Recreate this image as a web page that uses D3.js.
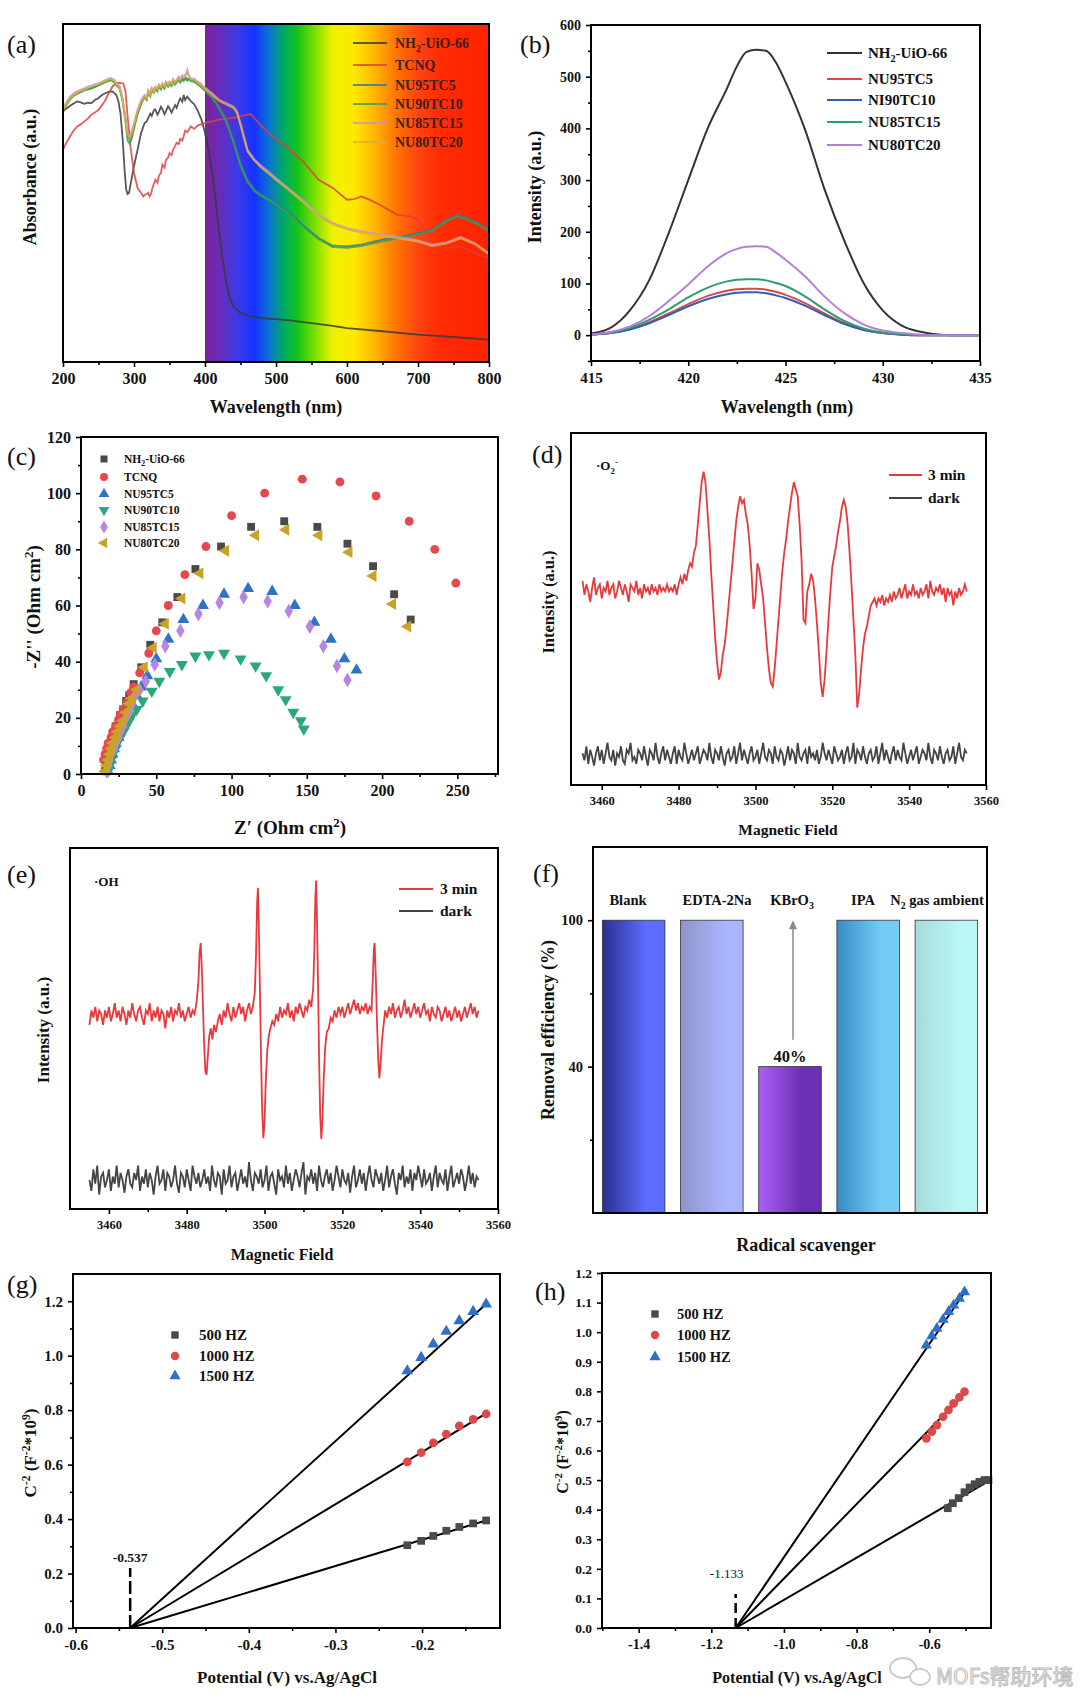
<!DOCTYPE html>
<html><head><meta charset="utf-8">
<script src="https://cdn.jsdelivr.net/npm/d3@7"></script>
<style>body{margin:0;background:#fff}svg{display:block}</style>
</head><body><svg id="fig" width="1080" height="1702"></svg>
<script>
// ================= DATA =================
// (a) UV-vis absorbance (a.u., 0..1 of frame)
const aNames = ["NH2-UiO-66","TCNQ","NU95TC5","NU90TC10","NU85TC15","NU80TC20"];
const aNH2 = [[200,.742],[205,.75],[210,.758],[215,.765],[220,.771],[225,.768],[230,.764],[235,.767],[240,.766],[245,.775],[250,.781],[255,.79],[260,.796],[265,.8],[270,.8],[275,.79],[278,.772],[281,.735],[284,.66],[287,.56],[289,.51],[291,.497],[293,.5],[296,.535],[300,.58],[305,.628],[310,.678],[315,.707],[318,.712],[320,.722],[323,.735],[325,.728],[328,.745],[330,.747],[333,.732],[335,.74],[338,.755],[340,.748],[343,.733],[345,.742],[348,.757],[350,.75],[353,.738],[355,.748],[358,.76],[360,.752],[363,.77],[365,.78],[368,.77],[370,.79],[372,.775],[375,.785],[378,.777],[380,.772],[385,.762],[390,.742],[395,.717],[400,.678],[405,.628],[410,.559],[415,.48],[420,.382],[425,.303],[430,.234],[435,.189],[440,.165],[450,.145],[460,.137],[480,.13],[500,.127],[520,.123],[550,.115],[580,.107],[600,.1],[650,.091],[700,.081],[750,.074],[800,.066]];
const aTCNQ = [[200,.628],[205,.65],[210,.668],[215,.685],[220,.697],[225,.703],[230,.712],[235,.72],[240,.732],[245,.738],[250,.746],[255,.76],[260,.776],[263,.79],[266,.801],[270,.816],[275,.825],[280,.826],[285,.824],[288,.801],[291,.727],[295,.638],[300,.559],[305,.515],[310,.5],[313,.49],[315,.495],[318,.497],[320,.5],[322,.49],[324,.498],[326,.515],[330,.539],[333,.53],[335,.55],[338,.56],[340,.584],[343,.575],[345,.598],[348,.605],[350,.618],[353,.612],[355,.628],[358,.64],[360,.648],[363,.645],[365,.66],[368,.655],[370,.668],[372,.685],[375,.68],[378,.69],[380,.697],[385,.69],[390,.7],[400,.707],[410,.712],[420,.717],[430,.72],[440,.722],[450,.727],[460,.732],[465,.733],[470,.72],[480,.697],[490,.678],[500,.658],[520,.628],[540,.589],[560,.539],[580,.515],[600,.48],[610,.482],[620,.49],[630,.482],[650,.461],[670,.436],[690,.431],[700,.421],[710,.382],[720,.342],[740,.337],[760,.342],[780,.322],[800,.308]];
const aNU95 = [[200,.747],[205,.765],[210,.781],[215,.79],[220,.796],[225,.8],[230,.806],[235,.808],[240,.811],[245,.815],[250,.82],[255,.826],[260,.83],[265,.834],[268,.835],[272,.83],[275,.82],[280,.811],[284,.776],[288,.717],[291,.668],[294,.658],[297,.673],[300,.697],[305,.737],[310,.766],[313,.78],[315,.786],[318,.778],[320,.801],[323,.79],[325,.808],[328,.8],[330,.811],[333,.805],[335,.818],[338,.81],[340,.82],[343,.812],[345,.826],[348,.818],[350,.825],[353,.82],[355,.833],[358,.825],[360,.83],[363,.838],[365,.83],[368,.84],[370,.835],[373,.842],[375,.836],[378,.84],[380,.835],[385,.832],[390,.825],[395,.816],[400,.806],[410,.786],[420,.756],[430,.717],[440,.658],[450,.589],[460,.539],[470,.51],[480,.495],[490,.483],[500,.47],[520,.441],[540,.401],[560,.367],[580,.344],[600,.342],[620,.347],[650,.362],[680,.372],[700,.382],[720,.391],[740,.421],[755,.436],[770,.426],[785,.411],[800,.391]];
const aNU90 = [[200,.74],[205,.76],[210,.776],[215,.787],[220,.793],[225,.798],[230,.803],[235,.806],[240,.809],[245,.813],[250,.818],[255,.823],[260,.828],[265,.832],[268,.833],[272,.828],[275,.818],[280,.808],[284,.77],[288,.71],[291,.655],[294,.645],[297,.662],[300,.69],[305,.732],[310,.762],[313,.775],[315,.782],[318,.775],[320,.796],[323,.786],[325,.804],[328,.796],[330,.807],[333,.8],[335,.814],[338,.806],[340,.816],[343,.808],[345,.822],[348,.814],[350,.821],[353,.816],[355,.828],[358,.82],[360,.826],[363,.834],[365,.826],[368,.836],[370,.831],[373,.838],[375,.832],[378,.836],[380,.831],[385,.828],[390,.821],[395,.812],[400,.802],[410,.782],[420,.75],[430,.71],[440,.65],[450,.58],[460,.532],[470,.505],[480,.49],[490,.479],[500,.466],[520,.437],[540,.397],[560,.363],[580,.34],[600,.338],[620,.343],[650,.357],[680,.368],[700,.378],[720,.388],[740,.416],[755,.431],[770,.422],[785,.406],[800,.386]];
const aNU85 = [[200,.751],[205,.77],[210,.786],[215,.795],[220,.801],[225,.806],[230,.81],[235,.815],[240,.818],[245,.822],[250,.825],[255,.83],[260,.835],[265,.84],[268,.84],[272,.835],[275,.826],[280,.816],[284,.78],[288,.722],[291,.678],[294,.668],[297,.683],[300,.707],[305,.747],[310,.776],[315,.79],[318,.783],[320,.804],[323,.795],[325,.812],[328,.805],[330,.815],[333,.81],[335,.822],[338,.815],[340,.825],[343,.818],[345,.83],[348,.822],[350,.83],[353,.826],[355,.838],[358,.83],[360,.835],[363,.845],[365,.838],[368,.848],[370,.845],[373,.852],[375,.865],[377,.85],[380,.84],[385,.838],[390,.83],[395,.822],[400,.812],[410,.795],[420,.776],[430,.766],[440,.756],[445,.742],[450,.707],[455,.668],[460,.628],[470,.599],[480,.579],[490,.562],[500,.544],[520,.51],[540,.475],[560,.436],[580,.411],[600,.396],[620,.387],[650,.377],[680,.367],[700,.36],[720,.347],[740,.354],[760,.37],[780,.352],[800,.322]];
const aNU80 = [[200,.745],[205,.764],[210,.78],[215,.79],[220,.797],[225,.802],[230,.806],[235,.811],[240,.815],[245,.819],[250,.822],[255,.827],[260,.832],[265,.836],[268,.837],[272,.832],[275,.822],[280,.812],[284,.774],[288,.716],[291,.672],[294,.662],[297,.678],[300,.702],[305,.742],[310,.77],[315,.786],[318,.779],[320,.8],[323,.79],[325,.808],[328,.8],[330,.812],[333,.806],[335,.818],[338,.812],[340,.822],[343,.814],[345,.826],[348,.819],[350,.827],[353,.822],[355,.834],[358,.826],[360,.832],[363,.84],[365,.834],[368,.845],[370,.841],[373,.848],[375,.856],[377,.846],[380,.837],[385,.834],[390,.826],[395,.818],[400,.808],[410,.79],[420,.772],[430,.762],[440,.752],[445,.737],[450,.7],[455,.66],[460,.622],[470,.594],[480,.574],[490,.557],[500,.539],[520,.505],[540,.47],[560,.432],[580,.407],[600,.392],[620,.383],[650,.373],[680,.363],[700,.356],[720,.343],[740,.35],[760,.366],[780,.348],[800,.318]];
const aTicks = [200,300,400,500,600,700,800];

// (b) PL spectra
const bNames = ["NH2-UiO-66","NU95TC5","NI90TC10","NU85TC15","NU80TC20"];
const bX    = [415,416,417,418,419,420,421,422,422.5,423,423.5,424,424.5,425,426,427,428,429,430,431,432,433,434,435];
const bNH2  = [3,14,48,107,198,300,400,478,520,548,552,550,528,490,398,283,185,102,48,18,6,1,0,0];
const bNU95 = [1,4,12,25,42,60,76,86,89,90,90,88,84,78,62,42,24,11,4,1,0,0,0,0];
const bNI90 = [1,4,11,23,39,56,70,79,82,83,83,81,77,72,57,39,22,10,4,1,0,0,0,0];
const bNU85 = [1,5,14,30,50,73,92,104,107,108,108,106,101,95,75,50,28,13,5,2,0,0,0,0];
const bNU80 = [1,6,17,37,66,98,133,159,167,171,172,171,160,146,114,75,43,21,9,4,1,0,0,0];
const bXTicks = [415,420,425,430,435];
const bYTicks = [0,100,200,300,400,500,600];

// (c) Nyquist
const cNames = ["NH2-UiO-66","TCNQ","NU95TC5","NU90TC10","NU85TC15","NU80TC20"];
const cNH2  = [[16,1],[16.5,3],[17,5],[18,7],[19,9],[20,11],[21,13],[22,15],[23,17],[25,19],[26,21],[28,23],[30,26],[32,28],[35,32],[40,38],[46,46],[54,54],[64,63],[76,73],[93,81],[113,88],[135,90],[157,88],[177,82],[194,74],[208,64],[219,55]];
const cTCNQ = [[15,5],[16,7],[17,9],[18,11],[20,13],[21,15],[23,17],[25,19],[26,21],[28,23],[31,26],[33,29],[35,31],[39,36],[45,43],[50,51],[58,60],[69,71],[83,81],[100,92],[122,100],[147,105],[172,104],[196,99],[218,90],[235,80],[249,68]];
const cNU95 = [[18,1],[19,3],[20,5],[21,7],[22,9],[23,11],[25,13],[26,15],[28,17],[30,20],[32,22],[34,25],[37,28],[40,31],[44,35],[50,41],[58,48],[68,55],[81,60],[95,64],[111,66],[127,65],[142,60],[155,54],[166,48],[175,41],[183,37]];
const cNU90 = [[18,1],[19,3],[20,5],[21,7],[23,9],[24,11],[26,13],[28,15],[30,17],[32,19],[34,21],[37,23],[41,26],[47,29.5],[52,33],[59,36.5],[67,39],[76,42],[85,42.5],[95,43],[106,41],[116,38.5],[123,35],[131,30],[136,26.5],[141,22],[146,19],[148,16]];
const cNU85 = [[17,1],[18,3],[19,5],[20,7],[22,9],[23,11],[25,13],[26,15],[28,17],[30,20],[32,22],[34,25],[36,28],[39,30],[43,33],[49,39],[56,45.5],[66,51],[78,57],[92,61],[108,63],[124,61.5],[138,58],[152,52.5],[161,45.5],[170,38.5],[177,33.5]];
const cNU80 = [[16,1],[17,3],[18,5],[19,7],[20,9],[21,11],[23,13],[24,15],[26,17],[28,19],[30,22],[32,25],[34,27],[37,30],[42,38],[48,45],[56,53.5],[67,62.5],[79,71.5],[96,79.5],[116,85],[136,87],[158,85],[178,79],[194,70.5],[207,60.5],[217,52.5]];
const cXTicks = [0,50,100,150,200,250];
const cYTicks = [0,20,40,60,80,100,120];

// (d) EPR DMPO-O2- (field start 3455 G, sampled every 0.5 G)
const dField0 = 3455, dStep = 0.5;
const dRed = [58,54,57,55,52,56,59,54,56,57, 53,56,55,58,54,56,57,53,55,58, 56,54,57,55,52,57,56,55,58,54,
 56,53,57,55,56,54,57,55,56,54, 57,55,56,55,57,55,56,55,57,54, 57,59,57,60,58,61,63,62,66,68,
 74,80,86,89,86,78,70,60,51,42, 35,30,32,37,40,45,51,57,63,69, 75,79,82,80,81,77,74,68,60,50,
 53,63,61,57,53,46,39,33,29,28, 33,40,47,54,61,66,70,75,79,83, 86,84,82,74,64,47,46,55,57,60,
 58,53,46,38,29,25,30,38,47,55, 62,65,68,72,75,79,81,79,74,66, 57,47,37,22,26,33,39,43,45,48,
 51,52,53,51,53,52,54,51,53,52, 54,52,55,53,54,56,53,55,57,53, 55,54,57,54,55,53,56,54,55,57,
 53,58,55,54,56,55,57,54,56,52, 56,54,55,51,55,53,56,54,55,57, 55];
const dDark = [9,7,11,6,10,8,5.5,9,11,7,10,6,9,12,8,7,10,5.5,9,8,11,7,6,10,9,12,7,8,6,10,
 9,7,11,8,5.5,10,9,7,12,8,6,9,11,7,10,8,6,9,11,6,10,8,7,12,9,6,8,10,7,9,
 11,6,8,10,9,7,12,8,6,10,9,7,11,8,5.5,9,10,7,8,11,6,9,12,7,10,8,6,9,11,7,
 8,10,6,9,12,8,7,10,9,6,11,8,7,10,9,5.5,8,11,7,10,9,6,12,8,7,9,10,6,11,8,
 9,7,10,6,8,12,9,7,10,8,6,11,9,7,8,10,6,9,11,7,8,12,6,10,9,7,11,8,6,9,
 10,7,8,11,6,9,12,7,10,8,6,9,11,7,10,8,7,12,9,6,8,10,7,9,11,6,8,10,9,7,
 12,8,6,10,9,7,11,8,6,9,10,7,8,11,6,9,12,8,7,10,9];
const dXTicks = [3460,3480,3500,3520,3540,3560];

// (e) EPR DMPO-OH
const eRed = [[3455,51],[3455.5,55],[3456,53],[3456.5,56],[3457,52],[3457.5,55],[3458,54],[3458.5,51],[3459,55],[3459.5,53],
 [3460,56],[3460.5,52],[3461,54],[3461.5,57],[3462,53],[3462.5,55],[3463,52],[3463.5,56],[3464,54],[3464.5,51],
 [3465,55],[3465.5,53],[3466,57],[3466.5,54],[3467,52],[3467.5,55],[3468,56],[3468.5,53],[3469,51],[3469.5,55],
 [3470,54],[3470.5,57],[3471,52],[3471.5,55],[3472,53],[3472.5,56],[3473,52],[3473.5,55],[3474,54],[3474.5,50],
 [3475,55],[3475.5,53],[3476,56],[3476.5,52],[3477,55],[3477.5,54],[3478,57],[3478.5,53],[3479,55],[3479.5,52],
 [3480,54],[3480.5,56],[3481,53],[3481.5,55],[3482,54],[3482.5,57],
 [3483,63],[3483.3,71],[3483.6,73.7],[3483.9,66],[3484.2,55],[3484.5,45],[3484.8,38],[3485.1,37.2],[3485.4,42],[3485.8,48],[3486.2,50],[3486.6,47],[3487,51],[3487.5,49],[3488,52],[3488.5,54],[3489,51],[3489.5,55],[3490,53],[3490.5,57],[3491,54],[3491.5,52],[3492,56],[3492.5,53],[3493,55],[3493.5,57],[3494,54],[3494.5,56],[3495,52],[3495.5,55],[3496,57],[3496.5,54],[3497,56],[3497.5,60],
 [3497.8,70],[3498.1,85],[3498.3,89],[3498.5,80],[3498.8,62],[3499.1,42],[3499.4,27],[3499.7,19.6],[3500,24],[3500.3,35],[3500.7,44],[3501.1,48],[3501.5,50],[3502,52],[3502.5,51],[3503,54],[3503.5,52],[3504,56],[3504.5,53],[3505,55],[3505.5,54],[3506,57],[3506.5,53],[3507,55],[3507.5,52],[3508,56],[3508.5,54],[3509,57],[3509.5,55],[3510,53],[3510.5,56],[3511,55],[3511.5,58],[3512,56],[3512.5,61],
 [3512.8,72],[3513.05,86],[3513.25,91],[3513.45,82],[3513.75,62],[3514.05,40],[3514.3,26],[3514.6,19.4],[3514.9,25],[3515.2,36],[3515.6,45],[3516,49],[3516.5,50],[3517,53],[3517.5,52],[3518,55],[3518.5,53],[3519,56],[3519.5,54],[3520,56],[3520.5,53],[3521,55],[3521.5,57],[3522,54],[3522.5,56],[3523,58],[3523.5,55],[3524,57],[3524.5,54],[3525,56],[3525.5,55],[3526,57],[3526.5,54],[3527,56],[3527.5,55],
 [3527.8,63],[3528.1,72],[3528.3,73.7],[3528.6,64],[3528.9,52],[3529.2,42],[3529.5,36.2],[3529.8,40],[3530.2,47],[3530.6,51],[3531,55],[3531.5,53],[3532,56],[3532.5,54],[3533,57],[3533.5,53],[3534,55],[3534.5,56],[3535,53],[3535.5,55],[3536,58],[3536.5,54],[3537,56],[3537.5,53],[3538,55],[3538.5,57],[3539,54],[3539.5,56],[3540,53],[3540.5,55],[3541,57],[3541.5,54],[3542,55],[3542.5,52],[3543,56],[3543.5,54],[3544,53],[3544.5,56],[3545,55],[3545.5,52],[3546,54],[3546.5,56],[3547,53],[3547.5,55],[3548,52],[3548.5,54],[3549,56],[3549.5,53],[3550,55],[3550.5,52],[3551,54],[3551.5,56],[3552,53],[3552.5,55],[3553,57],[3553.5,54],[3554,56],[3554.5,53],[3555,55]];
const eField0 = 3455, eStep = 0.5;
const eDark = [8,5,11,7,12,4,9,10,6,8,11,5,9,7,12,6,10,8,4.5,9,11,7,6,10,8,12,5,9,7,11,
 6,10,8,4,9,12,7,8,11,5,10,9,6,8,12,7,4.5,10,9,6,11,8,5,12,9,7,10,6,8,11,
 7,9,5,12,8,6,10,9,4,11,7,8,12,6,9,10,5,8,11,7,9,6,13,8,5,10,9,7,11,6,
 8,12,5,9,10,7,4,11,8,9,6,12,7,10,5,8,11,9,6,10,13,4,9,8,11,7,10,5,12,8,
 6,9,11,7,10,5,8,12,9,6,11,8,7,10,4.5,9,12,6,8,11,7,10,5,9,12,8,6,11,9,7,
 10,5,8,12,6,9,11,7,4,10,8,12,6,9,7,11,5,10,8,12,9,6,11,7,8,10,5,9,12,6,
 10,8,7,11,5,9,12,6,8,10,7,11,9,5,8,12,7,10,6,9,8];
const eXTicks = [3460,3480,3500,3520,3540,3560];

// (f) scavenger
const fCats = ["Blank","EDTA-2Na","KBrO3","IPA","N2 gas ambient"];
const fVals = [100,100,40,100,100];
const fYTicks = [40,100];

// (g) Mott-Schottky NH2-UiO-66
const gX     = [-0.217,-0.201,-0.187,-0.172,-0.157,-0.141,-0.126];
const g500   = [0.304,0.320,0.338,0.357,0.371,0.384,0.395];
const g1000  = [0.610,0.644,0.680,0.712,0.742,0.766,0.786];
const g1500  = [0.944,0.993,1.043,1.089,1.128,1.162,1.189];
const gFb = -0.537;
const gFitEnd = [[-0.126,0.395],[-0.126,0.788],[-0.126,1.19]];
const gXTicks = [-0.6,-0.5,-0.4,-0.3,-0.2];
const gYTicks = [0,0.2,0.4,0.6,0.8,1.0,1.2];

// (h) Mott-Schottky NU-TC
const hX500 = [-0.549,-0.535,-0.519,-0.503,-0.489,-0.475,-0.462,-0.448,-0.437];
const h500  = [0.405,0.422,0.439,0.459,0.475,0.486,0.494,0.5,0.5];
const hX    = [-0.608,-0.593,-0.579,-0.562,-0.547,-0.533,-0.517,-0.503];
const h1000 = [0.641,0.664,0.686,0.714,0.737,0.759,0.780,0.799];
const h1500 = [0.956,0.987,1.012,1.043,1.069,1.091,1.114,1.136];
const hFb = -1.133;
const hFitEnd = [[-0.432,0.5],[-0.497,0.80],[-0.497,1.145]];
const hXTicks = [-1.4,-1.2,-1.0,-0.8,-0.6];
const hYTicks = [0,0.1,0.2,0.3,0.4,0.5,0.6,0.7,0.8,0.9,1.0,1.1,1.2];

// ================= DRAW =================
const FONT = '"Liberation Serif","Times New Roman",Times,serif';
const svg = d3.select('#fig');
svg.append('rect').attr('width',1080).attr('height',1702).attr('fill','#fff');

function rich(t, parts, fs){
  let shift = 0;
  parts.forEach(p=>{
    const [s,m] = Array.isArray(p)?p:[p,null];
    const target = m==='sub'? fs*0.28 : (m==='sup'? -fs*0.38 : 0);
    const ts = t.append('tspan').text(s);
    if(target-shift!==0) ts.attr('dy', target-shift);
    if(m) ts.attr('font-size', fs*0.68);
    shift = target;
  });
}
function txt(x,y,parts,o){
  o = o||{};
  const t = svg.append('text').attr('x',x).attr('y',y)
    .attr('font-family',FONT).attr('font-size',o.fs||14).attr('font-weight',o.fw||'bold')
    .attr('text-anchor',o.anchor||'start').attr('fill',o.fill||'#111');
  if(o.rot) t.attr('transform',`rotate(-90,${x},${y})`);
  if(o.opacity) t.attr('opacity',o.opacity);
  rich(t, typeof parts==='string'?[parts]:parts, o.fs||14);
  return t;
}
function styleAxis(a, fs){
  a.select('.domain').remove();
  a.selectAll('.tick line').attr('stroke','#000').attr('stroke-width',1.6);
  a.selectAll('.tick text').attr('font-family',FONT).attr('font-weight','bold').attr('font-size',fs).attr('fill','#111');
}
function axes(p){
  const g = svg.append('g');
  const B = p.box;
  if(p.xt){ const a=g.append('g').attr('transform',`translate(0,${B.b})`)
      .call(d3.axisBottom(p.x).tickValues(p.xt).tickSize(5).tickPadding(p.xpad||6).tickFormat(p.fx||(d=>d))); styleAxis(a,p.fsx); }
  if(p.xm){ const a=g.append('g').attr('transform',`translate(0,${B.b})`)
      .call(d3.axisBottom(p.x).tickValues(p.xm).tickSize(3).tickFormat('')); styleAxis(a,p.fsx); }
  if(p.yt){ const a=g.append('g').attr('transform',`translate(${B.l},0)`)
      .call(d3.axisLeft(p.y).tickValues(p.yt).tickSize(5).tickPadding(p.ypad||5).tickFormat(p.fy||(d=>d))); styleAxis(a,p.fsy); }
  if(p.ym){ const a=g.append('g').attr('transform',`translate(${B.l},0)`)
      .call(d3.axisLeft(p.y).tickValues(p.ym).tickSize(3).tickFormat('')); styleAxis(a,p.fsy); }
  g.append('rect').attr('x',B.l).attr('y',B.t).attr('width',B.r-B.l).attr('height',B.b-B.t)
    .attr('fill','none').attr('stroke','#000').attr('stroke-width',2);
}
const symMap = {square:d3.symbolSquare, circle:d3.symbolCircle, tri:d3.symbolTriangle, diamond:d3.symbolDiamond};
function marker(g,x,y,type,size,color){
  let t=type, rot=0;
  if(type==='triDown'){t='tri';rot=180;}
  if(type==='triLeft'){t='tri';rot=-90;}
  g.append('path').attr('d',d3.symbol(symMap[t],size)()).attr('transform',`translate(${x},${y}) rotate(${rot})`).attr('fill',color);
}
const f1 = d=>d.toFixed(1);

// ---------- (a) ----------
{
  const box={l:63,t:24,r:489,b:362};
  const x=d3.scaleLinear([200,800],[box.l,box.r]), y=d3.scaleLinear([0,1],[box.b,box.t]);
  const defs=svg.append('defs');
  const lg=defs.append('linearGradient').attr('id','spec').attr('x1','0%').attr('x2','100%').attr('y1','0%').attr('y2','0%');
  [[400,'#7a2399'],[420,'#6a2bb8'],[445,'#3c3ae6'],[470,'#1532ff'],[490,'#0a72d2'],[510,'#00a868'],[530,'#14c41a'],[555,'#7ee000'],
   [580,'#eef200'],[610,'#ffe800'],[640,'#ffb400'],[670,'#ff7400'],[700,'#ff4512'],[730,'#ff2c04'],[800,'#ff2200']]
   .forEach(([w,c])=>lg.append('stop').attr('offset',((w-400)/400*100)+'%').attr('stop-color',c));
  svg.append('rect').attr('x',x(400)).attr('y',box.t).attr('width',x(800)-x(400)).attr('height',box.b-box.t).attr('fill','url(#spec)');
  const series=[aNH2,aTCNQ,aNU95,aNU90,aNU85,aNU80];
  const cols=['#3a3a3a','#dd4040','#2f78a8','#3aa04a','#c890d8','#e0b030'];
  const line=d3.line().x(d=>x(d[0])).y(d=>y(d[1]));
  series.forEach((s,i)=>svg.append('path').attr('d',line(s)).attr('fill','none').attr('stroke',cols[i]).attr('stroke-width',1.8).attr('opacity',0.85));
  const legY=[43,65,85,104,123,142];
  const legLabels=[["NH",["2","sub"],"-UiO-66"],["TCNQ"],["NU95TC5"],["NU90TC10"],["NU85TC15"],["NU80TC20"]];
  legY.forEach((ly,i)=>{
    svg.append('line').attr('x1',353).attr('x2',387).attr('y1',ly).attr('y2',ly).attr('stroke',cols[i]).attr('stroke-width',2).attr('opacity',0.8);
    txt(395,ly+5,legLabels[i],{fs:14,fill:'#2a1c1c',opacity:0.9});
  });
  axes({box,x,y,xt:aTicks,xm:[250,350,450,550,650,750],fsx:16});
  txt(276,413,"Wavelength (nm)",{fs:18,anchor:'middle'});
  txt(36,177,"Absorbance (a.u.)",{fs:18,anchor:'middle',rot:true});
  txt(7,53,"(a)",{fs:26,fw:'normal'});
}
// ---------- (b) ----------
{
  const box={l:591,t:25,r:980,b:361};
  const x=d3.scaleLinear([415,435],[box.l,box.r]), y=d3.scaleLinear([-50,600],[box.b,box.t]);
  const series=[bNH2,bNU95,bNI90,bNU85,bNU80];
  const cols=['#333333','#e04646','#2f5fb5','#2e9e6e','#b57fd6'];
  const line=d3.line().x((d,i)=>x(bX[i])).y(d=>y(d)).curve(d3.curveMonotoneX);
  series.forEach((s,i)=>svg.append('path').attr('d',line(s)).attr('fill','none').attr('stroke',cols[i]).attr('stroke-width',2));
  const legY=[53,79,100,122,145];
  const legLabels=[["NH",["2","sub"],"-UiO-66"],["NU95TC5"],["NI90TC10"],["NU85TC15"],["NU80TC20"]];
  legY.forEach((ly,i)=>{
    svg.append('line').attr('x1',827).attr('x2',862).attr('y1',ly).attr('y2',ly).attr('stroke',cols[i]).attr('stroke-width',2);
    txt(868,ly+5,legLabels[i],{fs:15});
  });
  axes({box,x,y,xt:bXTicks,xm:[417.5,422.5,427.5,432.5],fsx:15,yt:bYTicks,ym:[-50,50,150,250,350,450,550],fsy:14});
  txt(787,413,"Wavelength (nm)",{fs:18,anchor:'middle'});
  txt(541,187,"Intensity (a.u.)",{fs:18,anchor:'middle',rot:true});
  txt(520,53,"(b)",{fs:26,fw:'normal'});
}
// ---------- (c) ----------
{
  const box={l:81,t:437,r:498,b:774};
  const x=d3.scaleLinear([0,277],[box.l,box.r]), y=d3.scaleLinear([0,120],[box.b,box.t]);
  const series=[cNH2,cTCNQ,cNU95,cNU90,cNU85,cNU80];
  const types=['square','circle','tri','triDown','diamond','triLeft'];
  const cols=['#4a4a4a','#e5484d','#2f73c9','#2ba87a','#b686e0','#c9a227'];
  const g=svg.append('g');
  series.forEach((s,i)=>s.forEach(d=>marker(g,x(d[0]),y(d[1]),types[i],62,cols[i])));
  const legY=[459,477,494,510,527,543];
  const legLabels=[["NH",["2","sub"],"-UiO-66"],["TCNQ"],["NU95TC5"],["NU90TC10"],["NU85TC15"],["NU80TC20"]];
  legY.forEach((ly,i)=>{ marker(g,104,ly,types[i],50,cols[i]); txt(124,ly+4,legLabels[i],{fs:11.5}); });
  axes({box,x,y,xt:cXTicks,xm:[25,75,125,175,225,275],fsx:16,yt:cYTicks,ym:[10,30,50,70,90,110],fsy:16});
  txt(290,834,["Z′  (Ohm cm",["2","sup"],")"],{fs:19,anchor:'middle'});
  txt(40,607,["-Z'' (Ohm cm",["2","sup"],")"],{fs:19,anchor:'middle',rot:true});
  txt(7,465,"(c)",{fs:26,fw:'normal'});
}
// ---------- (d) ----------
{
  const box={l:571,t:433,r:986,b:785};
  const x=d3.scaleLinear([3452,3560],[box.l,box.r]), y=d3.scaleLinear([0,100],[box.b,box.t]);
  const line=d3.line().x((d,i)=>x(dField0+i*dStep)).y(d=>y(d));
  svg.append('path').attr('d',line(dDark)).attr('fill','none').attr('stroke','#444').attr('stroke-width',1.8);
  svg.append('path').attr('d',line(dRed)).attr('fill','none').attr('stroke','#e8393c').attr('stroke-width',1.8);
  [[475,'#e8393c',"3 min"],[498,'#444',"dark"]].forEach(([ly,c,l])=>{
    svg.append('line').attr('x1',889).attr('x2',922).attr('y1',ly).attr('y2',ly).attr('stroke',c).attr('stroke-width',2.2);
    txt(928,ly+5,l,{fs:15.5});
  });
  txt(596,470,["·O",["2","sub"],["-","sup"]],{fs:13});
  axes({box,x,y,xt:dXTicks,xm:[3470,3490,3510,3530,3550],fsx:12.5});
  txt(788,835,"Magnetic Field",{fs:15.5,anchor:'middle'});
  txt(554,602,"Intensity (a.u.)",{fs:16.5,anchor:'middle',rot:true});
  txt(532,463,"(d)",{fs:26,fw:'normal'});
}
// ---------- (e) ----------
{
  const box={l:70,t:848,r:498,b:1209};
  const x=d3.scaleLinear([3450,3560],[box.l,box.r]), y=d3.scaleLinear([0,100],[box.b,box.t]);
  const darkLine=d3.line().x((d,i)=>x(eField0+i*eStep)).y(d=>y(d));
  svg.append('path').attr('d',darkLine(eDark)).attr('fill','none').attr('stroke','#444').attr('stroke-width',1.8);
  const redLine=d3.line().x(d=>x(d[0])).y(d=>y(d[1]));
  svg.append('path').attr('d',redLine(eRed)).attr('fill','none').attr('stroke','#e8393c').attr('stroke-width',1.8);
  [[889,'#e8393c',"3 min"],[911,'#444',"dark"]].forEach(([ly,c,l])=>{
    svg.append('line').attr('x1',399).attr('x2',433).attr('y1',ly).attr('y2',ly).attr('stroke',c).attr('stroke-width',2.2);
    txt(440,ly+5,l,{fs:15.5});
  });
  txt(94,886,"·OH",{fs:13});
  axes({box,x,y,xt:eXTicks,xm:[3470,3490,3510,3530,3550],fsx:12.5});
  txt(282,1260,"Magnetic Field",{fs:16,anchor:'middle'});
  txt(49,1030,"Intensity (a.u.)",{fs:17,anchor:'middle',rot:true});
  txt(7,883,"(e)",{fs:26,fw:'normal'});
}
// ---------- (f) ----------
{
  const box={l:593,t:847,r:987,b:1213};
  const x=d3.scaleBand(fCats,[box.l,box.r]).paddingInner(0.2).paddingOuter(0.12);
  const y=d3.scaleLinear([-20,130],[box.b,box.t]);
  const defs=svg.append('defs');
  const grads=[['#2a2f8f','#5d6dff'],['#8e94c9','#aab4ff'],['#ab5ff7','#6b2fb3'],['#3a8bc4','#72ccf6'],['#a6dada','#b9f6f6']];
  grads.forEach((g,i)=>{
    const lg=defs.append('linearGradient').attr('id','bar'+i).attr('x1','0%').attr('x2','100%');
    lg.append('stop').attr('offset','0%').attr('stop-color',g[0]);
    lg.append('stop').attr('offset','70%').attr('stop-color',g[1]);
    lg.append('stop').attr('offset','100%').attr('stop-color',g[1]);
  });
  fCats.forEach((c,i)=>{
    svg.append('rect').attr('x',x(c)).attr('y',y(fVals[i])).attr('width',x.bandwidth()).attr('height',y(-20)-y(fVals[i]))
      .attr('fill',`url(#bar${i})`).attr('stroke','#333').attr('stroke-width',0.8);
  });
  const catLabels=[["Blank"],["EDTA-2Na"],["KBrO",["3","sub"]],["IPA"],["N",["2","sub"]," gas ambient"]];
  const lx=[628,717,792,863,937];
  catLabels.forEach((l,i)=>txt(lx[i],905,l,{fs:14.5,anchor:'middle'}));
  const ax=x("KBrO3")+x.bandwidth()/2+3;
  svg.append('line').attr('x1',ax).attr('x2',ax).attr('y1',y(51)).attr('y2',y(100)+6).attr('stroke','#8a8a8a').attr('stroke-width',1.5);
  svg.append('path').attr('d',`M${ax},${y(100)} l-4,9 l8,0 z`).attr('fill','#8a8a8a');
  txt(790,1062,"40%",{fs:16.5,anchor:'middle'});
  axes({box,x:d3.scaleLinear([0,1],[box.l,box.r]),y,yt:fYTicks,ym:[10,70],fsy:14.5});
  txt(806,1251,"Radical scavenger",{fs:18,anchor:'middle'});
  txt(554,1030,"Removal efficiency (%)",{fs:18,anchor:'middle',rot:true});
  txt(533,882,"(f)",{fs:26,fw:'normal'});
}
// ---------- (g) ----------
{
  const box={l:73,t:1274,r:500,b:1628};
  const x=d3.scaleLinear([-0.603,-0.11],[box.l,box.r]), y=d3.scaleLinear([0,1.3],[box.b,box.t]);
  gFitEnd.forEach(e=>svg.append('line').attr('x1',x(gFb)).attr('y1',y(0)).attr('x2',x(e[0])).attr('y2',y(e[1])).attr('stroke','#000').attr('stroke-width',2));
  const g=svg.append('g');
  const sets=[[g500,'square','#4a4a4a'],[g1000,'circle','#e04848'],[g1500,'tri','#2f6fc6']];
  sets.forEach(([s,t,c])=>s.forEach((v,i)=>marker(g,x(gX[i]),y(v),t,60,c)));
  svg.append('line').attr('x1',x(gFb)).attr('x2',x(gFb)).attr('y1',y(0)).attr('y2',y(0.22)).attr('stroke','#000').attr('stroke-width',2.5).attr('stroke-dasharray','13,4');
  txt(x(gFb),1562,"-0.537",{fs:13.5,anchor:'middle'});
  const legY=[1335,1356,1376];
  ["500 HZ","1000 HZ","1500 HZ"].forEach((l,i)=>{ marker(g,175,legY[i],sets[i][1],55,sets[i][2]); txt(199,legY[i]+5,l,{fs:15}); });
  axes({box,x,y,xt:gXTicks,xm:[-0.55,-0.45,-0.35,-0.25,-0.15],fsx:15,fx:f1,yt:gYTicks,ym:[0.1,0.3,0.5,0.7,0.9,1.1],fsy:15,fy:f1});
  txt(287,1683,"Potential (V) vs.Ag/AgCl",{fs:17,anchor:'middle'});
  txt(36,1453,["C",["-2","sup"]," (F",["-2","sup"],"*10",["9","sup"],")"],{fs:17,anchor:'middle',rot:true});
  txt(7,1293,"(g)",{fs:26,fw:'normal'});
}
// ---------- (h) ----------
{
  const box={l:602,t:1273,r:991,b:1628};
  const x=d3.scaleLinear([-1.501,-0.43],[box.l,box.r]), y=d3.scaleLinear([0,1.2],[box.b,box.t]);
  hFitEnd.forEach(e=>svg.append('line').attr('x1',x(hFb)).attr('y1',y(0)).attr('x2',x(e[0])).attr('y2',y(e[1])).attr('stroke','#000').attr('stroke-width',2));
  const g=svg.append('g');
  h500.forEach((v,i)=>marker(g,x(hX500[i]),y(v),'square',60,'#4a4a4a'));
  h1000.forEach((v,i)=>marker(g,x(hX[i]),y(v),'circle',60,'#e04848'));
  h1500.forEach((v,i)=>marker(g,x(hX[i]),y(v),'tri',55,'#2f6fc6'));
  svg.append('line').attr('x1',x(hFb)).attr('x2',x(hFb)).attr('y1',y(0)).attr('y2',y(0.115)).attr('stroke','#000').attr('stroke-width',2.5).attr('stroke-dasharray','10,5');
  txt(x(hFb)-9,1578,"-1.133",{fs:13,anchor:'middle',fw:'normal'});
  const legY=[1314,1335,1357];
  const st=[['square','#4a4a4a'],['circle','#e04848'],['tri','#2f6fc6']];
  ["500 HZ","1000 HZ","1500 HZ"].forEach((l,i)=>{ marker(g,655,legY[i],st[i][0],55,st[i][1]); txt(677,legY[i]+5,l,{fs:14.5}); });
  axes({box,x,y,xt:hXTicks,xm:[-1.5,-1.3,-1.1,-0.9,-0.7,-0.5],fsx:14,fx:f1,yt:hYTicks,fsy:13.5,fy:f1});
  txt(797,1683,"Potential (V) vs.Ag/AgCl",{fs:16,anchor:'middle'});
  txt(568,1452,["C",["-2","sup"]," (F",["-2","sup"],"*10",["9","sup"],")"],{fs:16,anchor:'middle',rot:true});
  txt(535,1300,"(h)",{fs:26,fw:'normal'});
  // watermark (present in the reference image), nudged below the tick labels
  const wm=svg.append('g').attr('opacity',0.9);
  wm.append('ellipse').attr('cx',903).attr('cy',1668).attr('rx',13).attr('ry',10).attr('fill','#fff').attr('stroke','#c4c4c4').attr('stroke-width',1.8);
  wm.append('ellipse').attr('cx',920).attr('cy',1677).attr('rx',10).attr('ry',8).attr('fill','#fff').attr('stroke','#c4c4c4').attr('stroke-width',1.8);
  wm.append('text').attr('x',936).attr('y',1684).attr('font-family','"Noto Sans CJK SC","Noto Sans",sans-serif')
    .attr('font-size',21).attr('fill','#fff').attr('stroke','#b8b8b8').attr('stroke-width',1.1).text('MOFs帮助环境');
}
</script>
</body></html>
